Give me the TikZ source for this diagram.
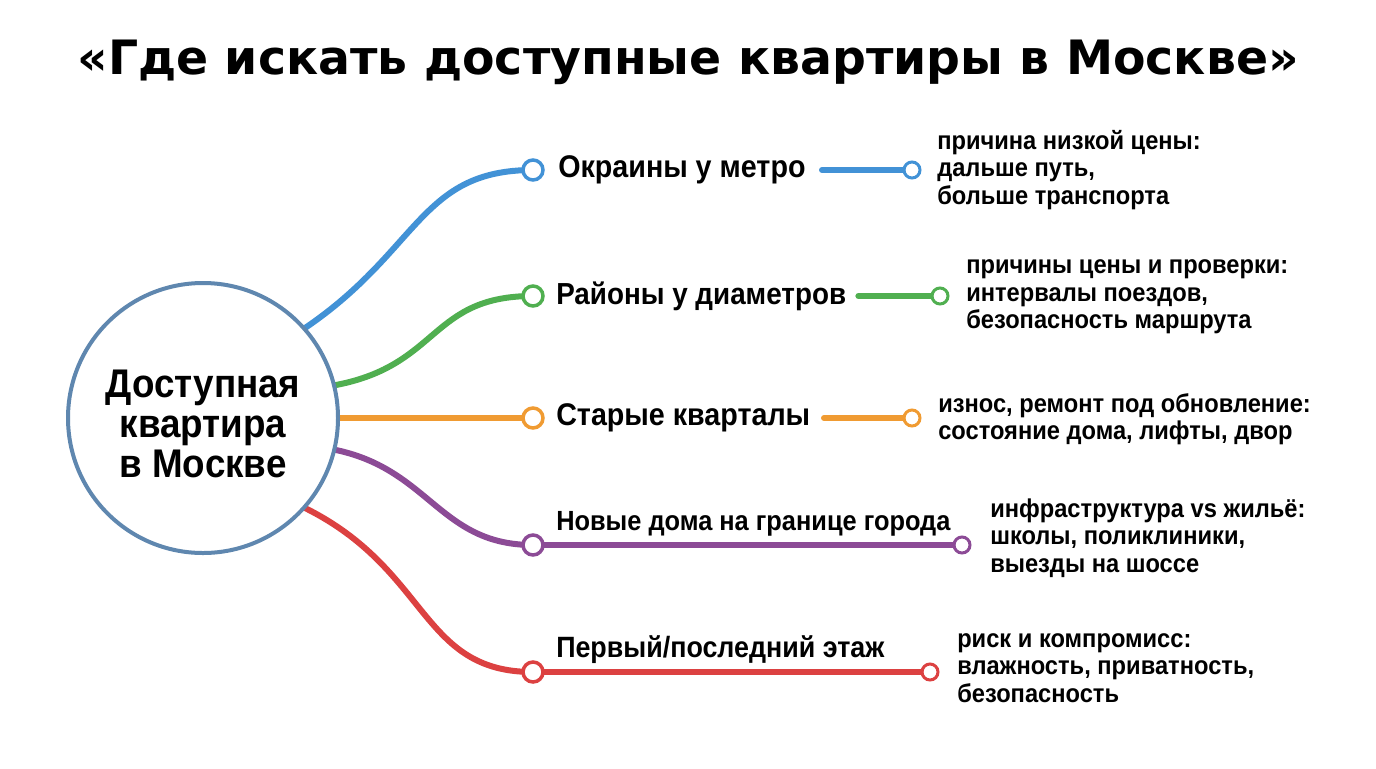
\documentclass[tikz,border=0pt]{standalone}
\usepackage{fontspec}
\setmainfont{Liberation Sans}
\newfontfamily\nf{Liberation Sans}[FakeStretch=0.915]
\newfontfamily\nnf{Liberation Sans}[FakeStretch=0.92]
\newfontfamily\titlefont{DejaVu Sans}
\begin{document}
\begin{tikzpicture}[x=0.75pt,y=-0.75pt,
  br/.style={line width=6pt*0.75,line cap=round},
  dot/.style={circle,draw,line width=3.5pt*0.75,fill=white,minimum size=20pt*0.75,inner sep=0},
  sdot/.style={circle,draw,line width=3pt*0.75,fill=white,minimum size=16pt*0.75,inner sep=0},
  lab/.style={anchor=west,font=\nf\bfseries\fontsize{23.5}{25}\selectfont,inner sep=0},
  note/.style={anchor=west,align=left,font=\nnf\bfseries\fontsize{19.3}{20.5}\selectfont,inner sep=0}]
\definecolor{cb}{RGB}{66,146,214}\definecolor{cg}{RGB}{80,175,80}
\definecolor{co}{RGB}{240,155,50}\definecolor{cp}{RGB}{140,75,150}
\definecolor{cr}{RGB}{220,65,65}\definecolor{cc}{RGB}{95,135,175}
\useasboundingbox (0,0) rectangle (1376,768);
\node[font=\titlefont\bfseries\fontsize{35.5}{38}\selectfont] (t) at (688,62) {«Где искать доступные квартиры в Москве»};
\coordinate (s1) at (305,328);\coordinate (s2) at (336,385);\coordinate (s3) at (338,418);
\coordinate (s4) at (336,450);\coordinate (s5) at (305,508);
\draw[cb,br] (s1) .. controls (420,250) and (420,170) .. (533,170);
\draw[cg,br] (s2) .. controls (440,365) and (430,296) .. (533,296);
\draw[co,br] (s3) -- (533,418);
\draw[cp,br] (s4) .. controls (430,470) and (440,545) .. (533,545);
\draw[cr,br] (s5) .. controls (430,570) and (420,672) .. (533,672);
\node[circle,draw=cc,line width=4pt*0.75,fill=white,minimum size=270pt*0.75] (c) at (203,418) {};
\node[align=center,font=\nnf\bfseries\fontsize{30}{30}\selectfont] at (203,424) {Доступная\\квартира\\в Москве};
% 1
\node[dot,draw=cb] (a1) at (533,170) {};
\node[lab] (l1) at (558,170) {Окраины у метро};
\node[sdot,draw=cb] (b1) at (912,170) {};
\draw[cb,br] (822,170) -- (b1);
\node[note] at (937,170) {причина низкой цены:\\дальше путь,\\больше транспорта};
% 2
\node[dot,draw=cg] (a2) at (533,296) {};
\node[lab,font=\nf\bfseries\fontsize{22.8}{25}\selectfont] (l2) at (556,296) {Районы у диаметров};
\node[sdot,draw=cg] (b2) at (940,296) {};
\draw[cg,br] ([xshift=9pt]l2.east) -- (b2);
\node[note] at (966,297) {причины цены и проверки:\\интервалы поездов,\\безопасность маршрута};
% 3
\node[dot,draw=co] (a3) at (533,418) {};
\node[lab] at (556,418) {Старые кварталы};
\node[sdot,draw=co] (b3) at (912,418) {};
\draw[co,br] (824,418) -- (b3);
\node[note] at (938,419) {износ, ремонт под обновление:\\состояние дома, лифты, двор};
% 4
\node[dot,draw=cp] (a4) at (533,545) {};
\node[sdot,draw=cp] (b4) at (962,545) {};
\draw[cp,br] (a4) -- (b4);
\node[lab,font=\nf\bfseries\fontsize{20.8}{22}\selectfont] at (556,524) {Новые дома на границе города};
\node[note] at (990,538) {инфраструктура vs жильё:\\школы, поликлиники,\\выезды на шоссе};
% 5
\node[dot,draw=cr] (a5) at (533,672) {};
\node[sdot,draw=cr] (b5) at (930,672) {};
\draw[cr,br] (a5) -- (b5);
\node[lab,font=\nf\bfseries\fontsize{22}{22}\selectfont] at (556,650) {Первый/последний этаж};
\node[note] at (957,668) {риск и компромисс:\\влажность, приватность,\\безопасность};
\end{tikzpicture}
\end{document}
